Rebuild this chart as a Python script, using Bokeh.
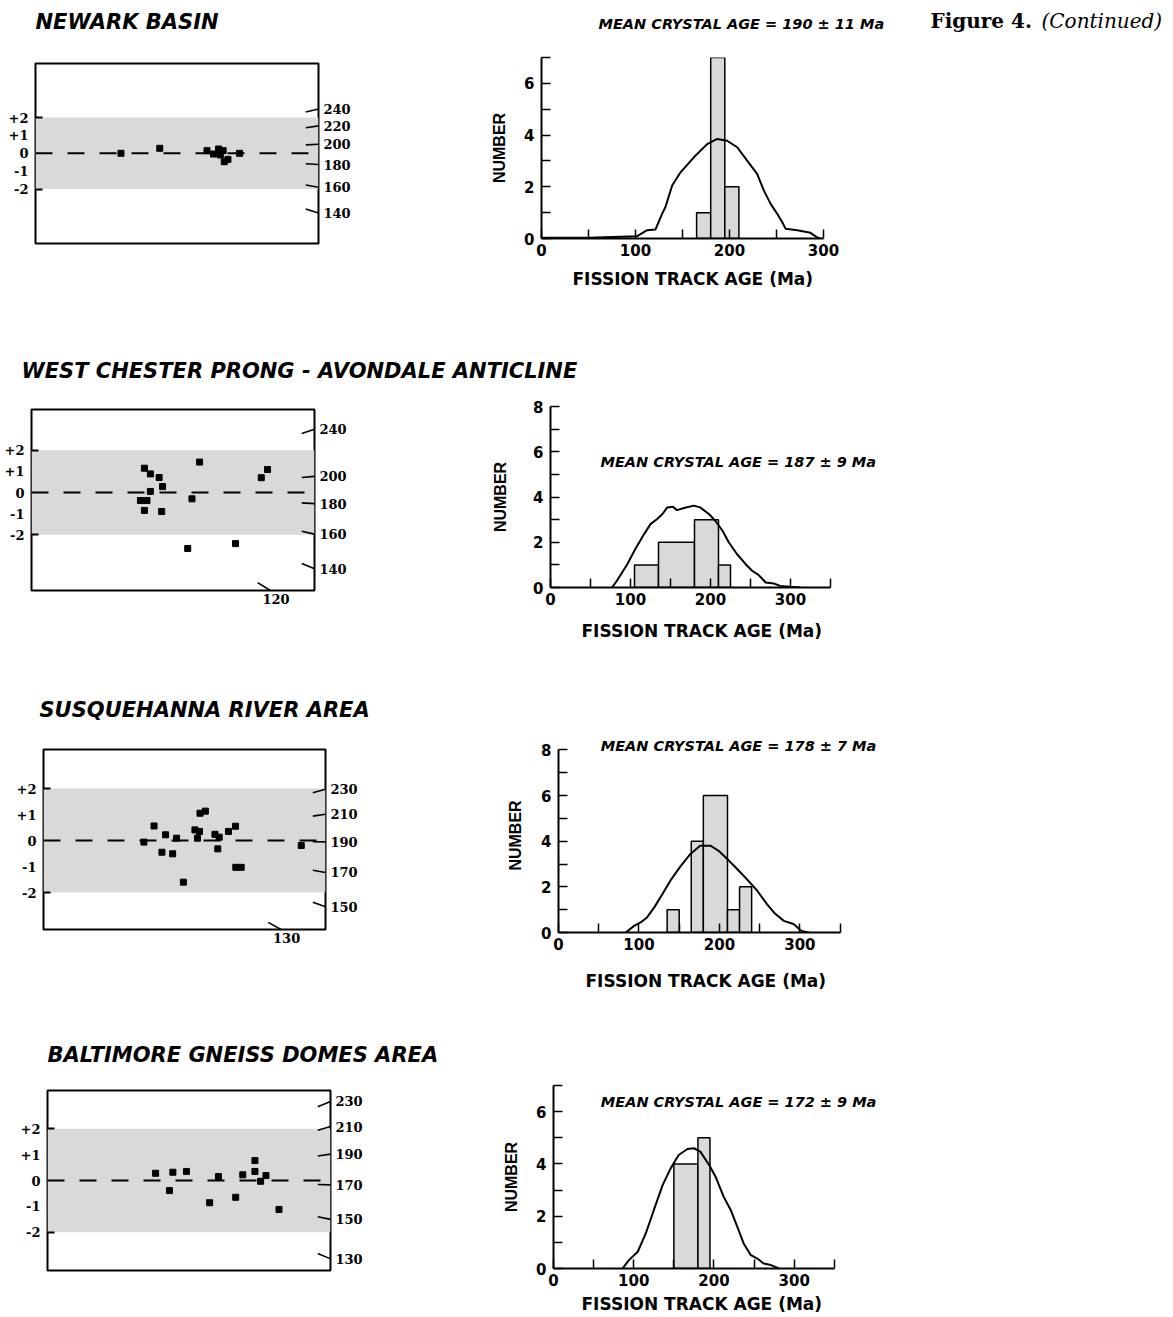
import math
from bokeh.plotting import figure
from bokeh.models import Range1d, LinearAxis, FixedTicker, BoxAnnotation, Span, Label, Title
from bokeh.layouts import column, row
from bokeh.core.properties import value
from bokeh.embed import file_html
from bokeh.resources import INLINE

# ---------------- data ----------------
region_titles = ["NEWARK BASIN", "WEST CHESTER PRONG - AVONDALE ANTICLINE",
                 "SUSQUEHANNA RIVER AREA", "BALTIMORE GNEISS DOMES AREA"]
mean_texts = ["MEAN CRYSTAL AGE = 190 \u00b1 11 Ma", "MEAN CRYSTAL AGE = 187 \u00b1 9 Ma",
              "MEAN CRYSTAL AGE = 178 \u00b1 7 Ma", "MEAN CRYSTAL AGE = 172 \u00b1 9 Ma"]
x_title = "FISSION TRACK AGE (Ma)"
y_title = "NUMBER"

# radial plots: relative precision (0-100 across the box) and standardized estimate
rad1_x = [30.2, 43.9, 60.6, 62.9, 64.7, 65.3, 66.3, 66.7, 68.0, 72.1]
rad1_z = [0.0, 0.28, 0.15, -0.04, 0.24, -0.09, 0.15, -0.47, -0.34, 0.0]
rad2_x = [39.9, 42.0, 45.1, 46.3, 42.0, 38.5, 40.8, 39.9, 46.0, 59.4, 56.7, 55.2, 72.1, 81.2, 83.4]
rad2_z = [1.15, 0.88, 0.71, 0.28, 0.05, -0.38, -0.38, -0.85, -0.90, 1.44, -0.30, -2.65, -2.42, 0.70, 1.09]
rad3_x = [35.6, 39.2, 42.0, 43.3, 45.8, 47.2, 49.6, 53.7, 54.6, 55.3, 55.5, 57.4, 60.8, 61.8,
          62.3, 65.6, 68.1, 68.2, 70.1, 91.4]
rad3_z = [-0.06, 0.56, -0.45, 0.22, -0.51, 0.09, -1.60, 0.41, 0.09, 0.35, 1.05, 1.13, 0.24, -0.32,
          0.13, 0.35, 0.55, -1.03, -1.03, -0.19]
rad4_x = [38.2, 43.1, 44.3, 49.1, 57.3, 60.4, 66.5, 69.0, 73.3, 73.3, 75.3, 77.2, 81.8]
rad4_z = [0.28, -0.39, 0.32, 0.35, -0.86, 0.15, -0.65, 0.22, 0.77, 0.35, -0.03, 0.19, -1.12]

# radial age-scale tick labels (Ma) on the right edge and on the bottom edge
rad_right_ticks = [[240, 220, 200, 180, 160, 140], [240, 200, 180, 160, 140],
                   [230, 210, 190, 170, 150], [230, 210, 190, 170, 150, 130]]
rad_bottom_ticks = [[], [120], [130], []]
rad_ref_age = [190.8, 187.9, 190.9, 172.7]      # age of the zero line
rad_scale = [10.78, 12.26, 10.57, 10.67]        # z units per log-age unit at right edge
rad_ylim = [(-5.04, 5.02), (-4.64, 3.93), (-3.42, 3.50), (-3.48, 3.48)]
BAND = 2
left_ticks = [-2, -1, 0, 1, 2]
left_labels = ["-2", "-1", "0", "+1", "+2"]

# histograms (15 Ma bins)
BIN = 15
h1_left = [165, 180, 195]
h1_count = [1, 7, 2]
h2_left = [105, 120, 135, 150, 165, 180, 195, 210]
h2_count = [1, 1, 2, 2, 2, 3, 3, 1]
h3_left = [135, 150, 165, 180, 195, 210, 225]
h3_count = [1, 0, 4, 6, 6, 1, 2]
h4_left = [150, 165, 180]
h4_count = [4, 4, 5]

# probability density curves
c1_x = [0, 50, 101.8, 112.4, 121.3, 128.4, 131.9, 139, 147.9, 162.1, 176.2, 186.9, 197.5, 208.2,
        218.8, 229.4, 236.5, 243.6, 250.7, 256, 259.6, 272, 286.2, 293.3, 296.8]
c1_y = [0.03, 0.03, 0.09, 0.32, 0.35, 0.96, 1.22, 2.05, 2.56, 3.14, 3.65, 3.85, 3.78, 3.53,
        3.01, 2.5, 1.86, 1.35, 0.96, 0.64, 0.38, 0.32, 0.22, 0.04, 0]
c2_x = [77, 83, 96, 106, 117, 125, 133, 140, 146, 153, 158, 167, 179, 187, 198, 206, 215, 223,
        233, 244, 252, 260, 269, 279, 287, 300, 312]
c2_y = [0, 0.3, 1.03, 1.70, 2.36, 2.80, 3.02, 3.25, 3.54, 3.57, 3.42, 3.51, 3.62, 3.54, 3.25,
        2.95, 2.51, 1.99, 1.48, 1.03, 0.74, 0.56, 0.22, 0.18, 0.07, 0.03, 0]
c3_x = [83.5, 94, 102, 110, 119, 129, 139, 152, 164, 176, 189, 199, 212, 222, 234, 247, 259,
        269, 280, 292, 302, 311]
c3_y = [0, 0.29, 0.44, 0.66, 1.10, 1.68, 2.27, 2.92, 3.44, 3.80, 3.80, 3.58, 3.14, 2.78, 2.34,
        1.83, 1.24, 0.83, 0.51, 0.37, 0.07, 0]
c4_x = [86, 94, 105, 115, 125, 136, 146, 156, 167, 175, 183, 194, 202, 212, 221, 229, 237,
        246, 254, 262, 271, 281]
c4_y = [0, 0.32, 0.64, 1.34, 2.23, 3.19, 3.83, 4.34, 4.57, 4.60, 4.47, 3.96, 3.51, 2.75, 2.23,
        1.60, 0.96, 0.51, 0.38, 0.19, 0.13, 0]

hist_xmax = [300, 350, 350, 350]
hist_ymax = [7, 8, 8, 7]

# ---------------- styling ----------------
SANS = "Liberation Sans"
WIDE = "DejaVu Sans"
SERIF = "DejaVu Serif"
SHADE = "#d9d9d9"
W_TOTAL = 1173
W_RAD = 470
W_HIST = W_TOTAL - W_RAD
BOTTOM_LABEL_SHIFT = 2.0   # label sits just right of its slanted tick


def base_fig(w, h, xr, yr, ml, mr, mt, mb):
    p = figure(width=w, height=h, x_range=xr, y_range=yr, output_backend="svg",
               toolbar_location=None, title=None,
               min_border_left=ml, min_border_right=mr, min_border_top=mt, min_border_bottom=mb)
    p.grid.visible = False
    p.background_fill_color = "white"
    p.border_fill_color = "white"
    return p


def radial_panel(xs, zs, ylim, rticks, bticks, t0, k, borders, h):
    ml, mr, mt, mb = borders
    p = base_fig(W_RAD, h, Range1d(0, 100), Range1d(*ylim), ml, mr, mt, mb)
    p.outline_line_color = "black"
    p.outline_line_width = 2
    p.add_layout(BoxAnnotation(bottom=-BAND, top=BAND, fill_color=SHADE, fill_alpha=1,
                               line_alpha=0, level="underlay"))
    p.add_layout(Span(location=0, dimension="width", line_color="black",
                      line_width=2, line_dash="17 15"))
    p.scatter(xs, zs, marker="square", size=6, color="black")

    L = 4.5
    yr = [round(k * math.log(t / t0), 6) for t in rticks]
    x0 = [100 - L for _ in yr]
    y0 = [v - 1.5 * v / 100 * L for v in yr]
    x1 = [100 for _ in yr]
    y1 = list(yr)
    ylo = ylim[0]
    yb = [k * math.log(t / t0) for t in bticks]
    xb = [100 * ylo / v for v in yb]
    for xh, v in zip(xb, yb):
        s = 1.5 * v / 100
        x0.append(xh - L)
        y0.append(ylo - s * L)
        x1.append(xh)
        y1.append(ylo)
    p.segment(x0, y0, x1, y1, line_color="black", line_width=1.6)

    la = p.yaxis[0]
    la.ticker = FixedTicker(ticks=left_ticks, minor_ticks=[-BAND, BAND])
    la.major_label_overrides = {t: s for t, s in zip(left_ticks, left_labels)}
    la.axis_line_color = None
    la.major_tick_line_color = None
    la.major_tick_out = 0
    la.major_tick_in = 0
    la.minor_tick_in = 7
    la.minor_tick_out = 0
    la.minor_tick_line_width = 2
    la.minor_tick_line_color = "black"
    la.major_label_standoff = 7
    la.major_label_text_font = SERIF
    la.major_label_text_font_style = "bold"
    la.major_label_text_font_size = "13px"
    la.major_label_text_color = "black"

    ra = LinearAxis(ticker=FixedTicker(ticks=list(yr)),
                    major_label_overrides={v: str(t) for v, t in zip(yr, rticks)})
    ra.axis_line_color = None
    ra.major_tick_line_color = None
    ra.minor_tick_line_color = None
    ra.major_tick_out = 0
    ra.major_tick_in = 0
    ra.major_label_standoff = 5
    ra.major_label_text_font = SERIF
    ra.major_label_text_font_style = "bold"
    ra.major_label_text_font_size = "13px"
    ra.major_label_text_color = "black"
    p.add_layout(ra, "right")

    ba = p.xaxis[0]
    if bticks:
        lx = [round(v + BOTTOM_LABEL_SHIFT, 6) for v in xb]
        ba.ticker = FixedTicker(ticks=lx)
        ba.major_label_overrides = {v: str(t) for v, t in zip(lx, bticks)}
        ba.axis_line_color = None
        ba.major_tick_line_color = None
        ba.minor_tick_line_color = None
        ba.major_tick_out = 0
        ba.major_tick_in = 0
        ba.major_label_standoff = 3
        ba.major_label_text_font = SERIF
        ba.major_label_text_font_style = "bold"
        ba.major_label_text_font_size = "13px"
        ba.major_label_text_color = "black"
    else:
        ba.visible = False
    return p


def hist_panel(lefts, counts, cx, cy, xmax, ymax, xend, yend, borders, h, ylab_sd,
               xt_offset, xt_standoff, mean=None):
    ml, mr, mt, mb = borders
    p = base_fig(W_HIST, h, Range1d(0, xend), Range1d(0, yend), ml, mr, mt, mb)
    p.outline_line_color = None
    runs = []
    for l, c in zip(lefts, counts):
        if c == 0:
            continue
        if runs and runs[-1][2] == c and abs(runs[-1][1] - l) < 1e-9:
            runs[-1][1] = l + BIN
        else:
            runs.append([l, l + BIN, c])
    p.quad(left=[r[0] for r in runs], right=[r[1] for r in runs], bottom=0,
           top=[r[2] for r in runs], fill_color=SHADE, line_color="black", line_width=1.5)
    p.line(cx, cy, line_color="black", line_width=2)

    xa = p.xaxis[0]
    xt = list(range(0, xmax + 1, 50))
    xa.ticker = FixedTicker(ticks=xt)
    xa.major_label_overrides = {t: (str(t) if t % 100 == 0 else "") for t in xt}
    xa.bounds = (0, xmax)
    ya = p.yaxis[0]
    yt = list(range(0, ymax + 1))
    ya.ticker = FixedTicker(ticks=yt)
    ya.major_label_overrides = {t: (str(t) if t % 2 == 0 else "") for t in yt}
    ya.bounds = (0, ymax)
    for ax in (xa, ya):
        ax.axis_line_width = 2
        ax.axis_line_color = "black"
        ax.major_tick_line_width = 1.5
        ax.major_tick_line_color = "black"
        ax.major_tick_in = 9
        ax.major_tick_out = 0
        ax.minor_tick_line_color = None
        ax.major_label_text_font = WIDE
        ax.major_label_text_font_style = "bold"
        ax.major_label_text_font_size = "15px"
        ax.major_label_text_color = "black"
        ax.axis_label_text_color = "black"
    xa.major_label_standoff = 5
    ya.major_label_standoff = 7
    ya.axis_label = y_title
    ya.axis_label_text_font = SANS
    ya.axis_label_text_font_size = "16px"
    ya.axis_label_text_font_style = "bold"
    ya.axis_label_standoff = ylab_sd
    p.add_layout(Title(text=x_title, align="left", offset=xt_offset, standoff=xt_standoff,
                       text_font=WIDE, text_font_size="17px", text_font_style="bold",
                       text_color="black"), "below")
    if mean is not None:
        txt, mx, my = mean
        p.add_layout(Label(x=mx, y=my, text=txt, text_font=WIDE, text_font_size="14.5px",
                           text_font_style="bold italic", text_baseline="middle",
                           text_align="left", text_color="black"))
    return p


def strip(h, items):
    p = figure(width=W_TOTAL, height=h, x_range=Range1d(0, W_TOTAL), y_range=Range1d(h, 0),
               output_backend="svg", toolbar_location=None, title=None,
               x_axis_location=None, y_axis_location=None, min_border=0)
    p.grid.visible = False
    p.outline_line_color = None
    for (txt, x, y, font, size, style) in items:
        p.text(x=[x], y=[y], text=[txt], text_font=value(font), text_font_size=size,
               text_font_style=style, text_baseline="middle", text_align="left",
               text_color="black")
    return p


ROW_H = [280, 280, 280, 242]

s1 = strip(45, [(region_titles[0], 35, 21, WIDE, "21px", "bold italic"),
                (mean_texts[0], 598, 23, WIDE, "14.5px", "bold italic"),
                ("Figure 4.", 930, 20, SERIF, "20px", "bold"),
                ("(Continued)", 1041, 20, SERIF, "20px", "italic")])
s2 = strip(70, [(region_titles[1], 21, 45, WIDE, "21px", "bold italic")])
s3 = strip(60, [(region_titles[2], 39, 34, WIDE, "21px", "bold italic")])
s4 = strip(60, [(region_titles[3], 47, 39, WIDE, "21px", "bold italic")])

rads = [(rad1_x, rad1_z, (35, 152, 18, 82)), (rad2_x, rad2_z, (31, 156, 14, 85)),
        (rad3_x, rad3_z, (43, 145, 14, 86)), (rad4_x, rad4_z, (47, 140, 15, 47))]
R = []
for i, (xs, zs, b) in enumerate(rads):
    R.append(radial_panel(xs, zs, rad_ylim[i], rad_right_ticks[i], rad_bottom_ticks[i],
                          rad_ref_age[i], rad_scale[i], b, ROW_H[i]))

H = [
    hist_panel(h1_left, h1_count, c1_x, c1_y, hist_xmax[0], hist_ymax[0], 300, 7,
               (71, 350, 12, 87), ROW_H[0], 13, 31, 16),
    hist_panel(h2_left, h2_count, c2_x, c2_y, hist_xmax[1], hist_ymax[1], 425, 8,
               (80, 283, 11, 88), ROW_H[1], 21, 31, 22, (mean_texts[1], 62.5, 5.53)),
    hist_panel(h3_left, h3_count, c3_x, c3_y, hist_xmax[2], hist_ymax[2], 425, 8.5,
               (88, 273, 3, 83), ROW_H[2], 14, 27, 32, (mean_texts[2], 52.5, 8.19)),
    hist_panel(h4_left, h4_count, c4_x, c4_y, hist_xmax[3], hist_ymax[3], 425, 7,
               (83, 279, 10, 49), ROW_H[3], 13, 28, 6, (mean_texts[3], 59, 6.38)),
]

layout = column(s1, row(column(R[0]), column(H[0])), s2, row(column(R[1]), column(H[1])),
                s3, row(column(R[2]), column(H[2])), s4, row(column(R[3]), column(H[3])))

open("out.html", "w").write(file_html(layout, INLINE))
